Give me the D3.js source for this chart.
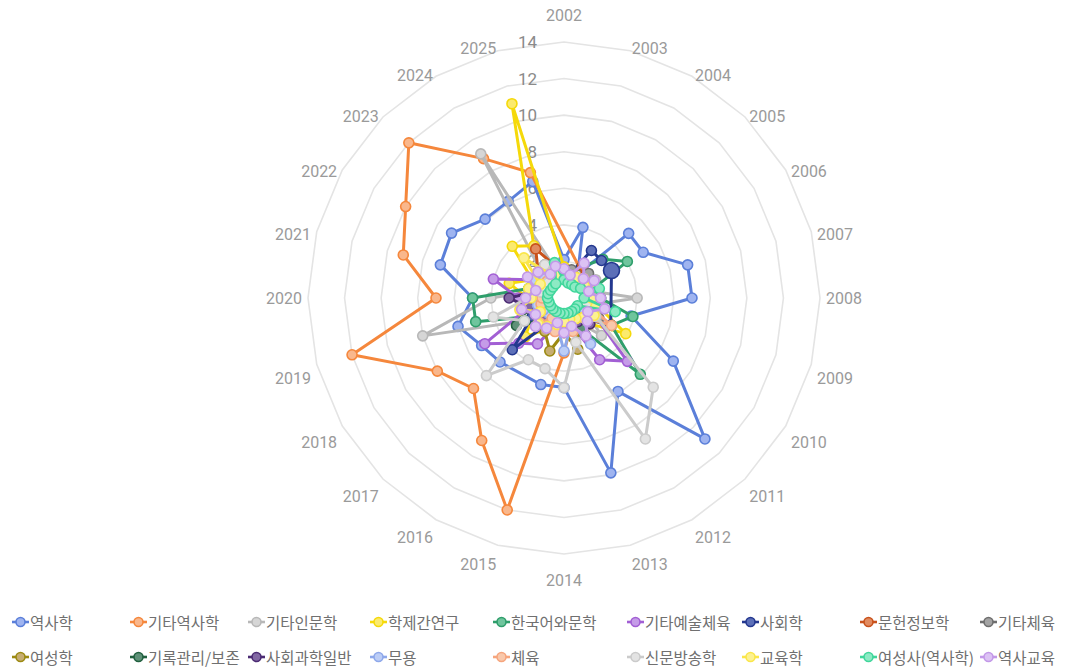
<!DOCTYPE html>
<html><head><meta charset="utf-8">
<script src="https://cdn.jsdelivr.net/npm/d3@7"></script>
<style>body{margin:0;background:#fff}svg{display:block}</style>
</head><body><svg id="c" width="1084" height="668"></svg>
<script>
const categories = ["2002","2003","2004","2005","2006","2007","2008","2009","2010","2011","2012","2013","2014","2015","2016","2017","2018","2019","2020","2021","2022","2023","2024","2025"];
const tickValues = [2,4,6,8,10,12,14];
const seriesNames = ["역사학","기타역사학","기타인문학","학제간연구","한국어와문학","기타예술체육","사회학","문헌정보학","기타체육","여성학","기록관리/보존","사회과학일반","무용","체육","신문방송학","교육학","여성사(역사학)","역사교육"];

const history          = [2.1,4.0,1.5,5.0,5.0,7.0,7.0,3.8,6.9,10.9,5.9,9.9,4.9,4.9,null,4.95,5.2,6.0,5.0,7.0,7.1,6.1,6.1,6.6];
const otherHistory     = [null,null,1.8,1.3,1.2,1.5,1.3,1.2,2.0,1.5,1.3,1.5,3.0,12.0,9.0,7.0,8.0,12.0,7.0,9.1,10.0,12.0,8.8,7.1];
const otherHumanities  = [1.3,1.2,1.5,1.3,2.0,1.5,4.0,1.5,1.3,2.9,1.5,1.3,1.2,1.5,1.3,1.5,2.5,8.0,4.0,1.5,1.3,1.5,9.1,1.5];
const interdisciplinary= [1.7,1.3,1.2,1.2,1.3,1.5,1.3,2.0,3.9,2.0,1.5,1.3,1.5,1.3,2.0,3.0,2.0,1.5,2.0,3.1,2.0,4.0,3.3,11.0];
const korean           = [1.2,1.5,2.0,3.0,4.0,1.5,2.0,3.9,3.0,5.9,2.0,1.5,1.2,1.5,1.2,1.5,2.0,5.0,5.0,2.0,1.5,1.2,1.5,1.2];
const otherArts        = [1.5,1.3,1.2,1.3,1.5,1.3,1.5,1.8,2.0,4.9,3.9,1.5,1.3,1.5,2.9,3.5,5.0,2.0,2.5,4.0,2.0,1.5,1.3,1.5];
const sociology        = [1.2,1.4,3.0,2.9,3.0,null,null,null,2.95,1.5,1.3,1.2,1.3,1.5,1.5,4.0,2.0,1.5,1.8,1.3,1.2,1.3,1.2,1.3];
const libraryInfo      = [1.5,1.3,2.05,1.3,1.2,1.3,1.2,1.2,1.2,1.3,1.2,1.2,1.2,1.3,1.2,1.3,1.2,1.3,1.5,1.3,1.5,2.0,3.1,1.8];
const otherSports      = [1.2,1.6,1.2,1.9,1.2,1.3,2.0,1.8,2.2,1.5,2.3,1.2,1.6,1.2,1.8,1.2,1.5,2.2,1.2,1.6,1.2,1.3,2.1,1.2];
const womensStudies    = [1.2,1.2,1.2,1.3,1.2,1.3,1.2,1.3,1.5,1.3,1.5,2.9,1.9,3.0,2.1,1.5,1.3,1.2,1.3,1.2,1.2,1.2,1.3,1.2];
const archives         = [1.2,1.2,1.2,1.3,1.2,1.2,1.2,1.3,1.2,1.5,1.9,1.3,1.2,1.3,1.5,1.8,3.0,2.0,1.5,1.3,1.2,1.5,1.3,1.2];
const socialScience    = [1.2,1.3,1.2,1.2,1.2,1.3,1.2,1.3,1.5,2.0,1.5,1.3,1.2,1.5,1.3,1.5,1.8,2.0,3.0,1.5,1.3,1.2,1.3,1.2];
const dance            = [1.3,1.2,1.3,1.2,1.2,1.2,1.3,1.2,1.3,1.5,2.9,1.5,2.9,1.5,1.3,1.2,1.3,1.5,1.3,1.5,2.0,1.5,1.3,1.2];
const physicalEd       = [1.3,1.2,1.3,1.5,1.3,1.2,1.5,1.3,3.0,1.5,1.3,1.9,1.3,1.9,1.3,1.9,1.5,1.3,1.2,1.3,1.2,1.3,1.2,1.3];
const journalism       = [1.2,1.3,1.2,1.2,1.2,1.3,1.5,1.3,2.0,6.9,8.9,2.5,4.9,4.0,3.9,6.0,2.5,4.0,2.0,1.3,1.2,1.2,2.1,1.2];
const education        = [1.2,1.2,1.3,1.5,1.3,1.5,1.5,1.8,1.9,1.5,1.3,1.2,1.3,1.5,1.8,2.0,1.5,2.5,1.8,2.0,1.5,3.1,1.5,1.3];
const womensHistory    = [1.0,0.85,0.85,0.85,1.05,2.0,1.1,2.9,0.85,0.85,0.85,0.85,0.85,0.85,0.85,0.85,0.85,0.85,0.9,0.9,0.85,0.85,0.9,2.0];
const historyEd        = [1.6,1.3,2.2,1.5,1.9,1.4,2.0,2.3,1.5,1.8,2.4,1.6,1.9,1.4,1.9,2.2,1.8,2.4,2.1,1.6,2.3,2.0,1.5,1.8];

const seriesValues = [history,otherHistory,otherHumanities,interdisciplinary,korean,otherArts,sociology,libraryInfo,otherSports,womensStudies,archives,socialScience,dance,physicalEd,journalism,education,womensHistory,historyEd];

// styles
const strokeColors = ["#5b7fd9","#f5873c","#b8b8b8","#f5d90a","#2f9e6b","#a25fd4","#24388f","#c9521c","#6e6e6e","#9c8a12","#21603f","#4b2b73","#8ea8ea","#f6a57d","#cbcbcb","#fae64a","#40d69b","#c398e8"];
const fillColors   = ["#9fb4f0","#f9b78c","#d6d6d6","#fbea6e","#6fc59d","#c59ce8","#5c6fb8","#e18b60","#a3a3a3","#c6ad72","#5f9178","#8268a3","#bccdf6","#f9c8ab","#e3e3e3","#fcf191","#8deac4","#dcc2f4"];
const bigPoint = {series: 6, index: 4};

const svg = d3.select("#c");
const cx = 564, cy = 298;
const rScale = d3.scaleLinear().domain([0,14]).range([0,256]);
const aScale = d3.scaleLinear().domain([0,categories.length]).range([0,2*Math.PI]);
const font = "Roboto, 'Noto Sans CJK KR', sans-serif";

const g = svg.append("g").attr("transform",`translate(${cx},${cy})`);

// grid rings
const ringLine = d3.lineRadial().angle((d,i)=>aScale(i)).radius(d=>rScale(d)).curve(d3.curveLinearClosed);
tickValues.forEach(v=>{
  g.append("path").attr("d", ringLine(categories.map(()=>v)))
   .attr("fill","none").attr("stroke","#e4e4e4").attr("stroke-width",1.6);
});

// radial tick labels
g.selectAll("text.tick").data(tickValues).join("text")
  .attr("x",-27).attr("y",d=>-rScale(d))
  .attr("text-anchor","end").attr("dominant-baseline","central")
  .attr("font-family",font).attr("font-size",17).attr("fill","#8a8a8a")
  .text(d=>d);

// category labels
categories.forEach((c,i)=>{
  const t = aScale(i), s = Math.sin(t), co = Math.cos(t), R = 262;
  let x = R*s, y = -R*co;
  let anchor = Math.abs(s)<0.01 ? "middle" : (s>0 ? "start" : "end");
  if (Math.abs(s)<0.01) { y += co>0 ? -21 : 20; }
  else if (co>0.01) y += 4;
  else if (co<-0.01) y += 13;
  g.append("text").attr("x",x).attr("y",y).attr("text-anchor",anchor)
   .attr("dominant-baseline","central").attr("font-family",font)
   .attr("font-size",16).attr("fill","#9a9a9a").text(c);
});

// series
const lineGen = d3.lineRadial().angle(d=>aScale(d.i)).radius(d=>rScale(d.v)).curve(d3.curveLinearClosed);
seriesValues.forEach((vals,k)=>{
  const pts = vals.map((v,i)=>({v,i})).filter(d=>d.v!==null);
  const sg = g.append("g");
  sg.append("path").attr("d",lineGen(pts)).attr("fill","none")
    .attr("stroke",strokeColors[k]).attr("stroke-width",3).attr("stroke-linejoin","round");
  sg.selectAll("circle").data(pts).join("circle")
    .attr("cx",d=>rScale(d.v)*Math.sin(aScale(d.i)))
    .attr("cy",d=>-rScale(d.v)*Math.cos(aScale(d.i)))
    .attr("r",d=>(k===bigPoint.series && d.i===bigPoint.index)?8:5)
    .attr("fill",fillColors[k]).attr("stroke",strokeColors[k]).attr("stroke-width",1.6);
});

// legend
const cols = [12,130,248,370,493,627,742,860,980];
const rowsY = [622,657];
let prevEnd = 0;
seriesNames.forEach((name,k)=>{
  const row = Math.floor(k/9), col = k%9;
  let x = cols[col];
  if (col===0) prevEnd = 0;
  x = Math.max(x, prevEnd+1);
  const y = rowsY[row];
  const lg = svg.append("g");
  lg.append("line").attr("x1",x).attr("x2",x+17).attr("y1",y).attr("y2",y)
    .attr("stroke",strokeColors[k]).attr("stroke-width",2.6);
  lg.append("circle").attr("cx",x+8.5).attr("cy",y).attr("r",4.5)
    .attr("fill",fillColors[k]).attr("stroke",strokeColors[k]).attr("stroke-width",1.6);
  const t = lg.append("text").attr("x",x+18).attr("y",y).attr("dominant-baseline","central")
    .attr("font-family","'Noto Sans CJK KR', sans-serif").attr("font-size",15.5).attr("fill","#707070").text(name);
  prevEnd = x+18+t.node().getComputedTextLength();
});
</script></body></html>
